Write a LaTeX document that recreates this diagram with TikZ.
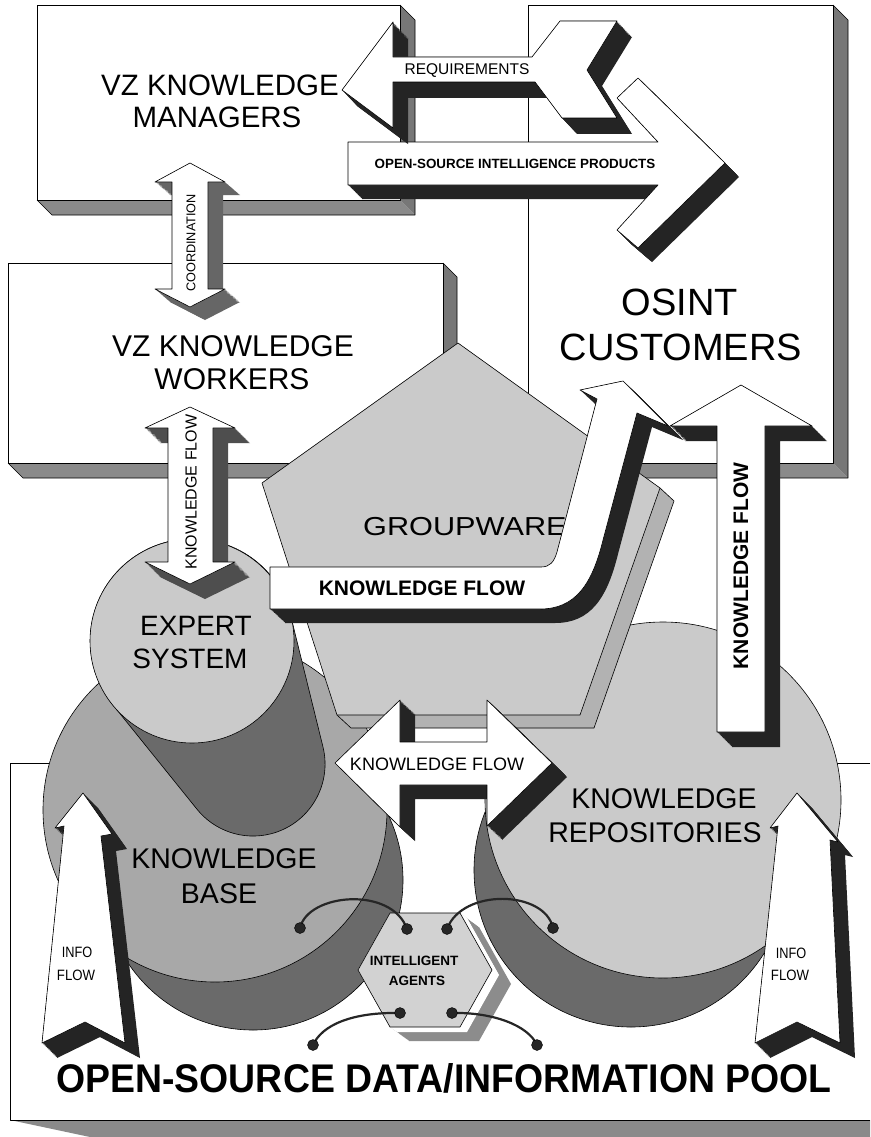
\documentclass[tikz,border=0pt]{standalone}
\usepackage{fontspec}
\setmainfont{Liberation Sans}
\usetikzlibrary{calc}

\definecolor{boxbottom}{HTML}{8A8A8A}
\definecolor{boxright}{HTML}{777777}
\definecolor{shadowdark}{HTML}{242424}
\definecolor{shadowmid}{HTML}{666666}
\definecolor{shadowgrey}{HTML}{4E4E4E}
\definecolor{facelight}{HTML}{CACACA}
\definecolor{facemid}{HTML}{A8A8A8}
\definecolor{cyldark}{HTML}{6A6A6A}
\definecolor{dotband}{HTML}{B2B2B2}
\definecolor{hexside}{HTML}{8C8C8C}
\definecolor{hexface}{HTML}{D2D2D2}

% extrusion of a closed path: copies of it slid along (dx,dy)
\newcommand{\sweep}[4]{%
  \foreach \k in {0,...,18}{%
    \fill[#1, shift={({#2*\k/18},{#3*\k/18})}] #4;}%
}
\newcommand{\fs}[1]{\fontsize{#1}{#1}\selectfont}

% outlines of the block arrows
\def\coordpath{(190,163) -- (225,182) -- (208,182) -- (208,289) -- (225,289) -- (190,307) -- (155,289) -- (172,289) -- (172,182) -- (155,182) -- cycle}
\def\kfleftpath{(190,407) -- (235,428) -- (213,428) -- (213,562) -- (235,562) -- (190,584) -- (145,562) -- (168,562) -- (168,428) -- (145,428) -- cycle}
\def\reqpath{(342,90) -- (393,22) -- (393,57) -- (532,57) -- (560,21) -- (617,21) -- (587,70) -- (617,118) -- (562,118) -- (535,82) -- (393,82) -- (393,128) -- cycle}
\def\prodpath{(348,142) -- (658,142) -- (617,98) -- (638,78) -- (725,163) -- (638,248) -- (617,230) -- (658,185) -- (348,185) -- cycle}
\def\bentpath{(270,567) -- (541,567) .. controls (550,567) and (554,562) .. (557,552) -- (597,399) -- (580,390) -- (623,381) -- (668,426) -- (637,413) -- (603,540) .. controls (592,585) and (575,609) .. (540,609) -- (270,609) -- cycle}
\def\kfrightpath{(741,385) -- (812,426) -- (765,426) -- (765,732) -- (717,732) -- (717,426) -- (670,426) -- cycle}
\def\kfmidpath{(335,763) -- (400,700) -- (400,742) -- (487,742) -- (487,700) -- (552,763) -- (487,826) -- (487,785) -- (400,785) -- (400,827) -- cycle}
\def\infoLpath{(83,793) -- (112,834) -- (101,836) -- (125,1043) -- (85,1022) -- (42,1043) -- (64,826) -- (55,828) -- cycle}
\def\infoRpath{(797,793) -- (838,842) -- (830,840) -- (840,1043) -- (797,1022) -- (755,1043) -- (778,826) -- (770,828) -- cycle}
\def\pentpath{(458,343) -- (660,488) -- (580,715) -- (337,715) -- (262,483) -- cycle}
\def\hexpath{(390,913) -- (460,913) -- (492,970) -- (460,1027) -- (390,1027) -- (358,970) -- cycle}

\begin{document}
\begin{tikzpicture}[x=1pt,y=-1pt,line join=round,
  edge/.style={draw=black,line width=0.6pt},
  whiteface/.style={edge,fill=white},
  lbl/.style={inner sep=0pt,anchor=base},
  vlbl/.style={inner sep=0pt,rotate=90},
  dot/.style={fill=black!85,draw=black,line width=0.4pt},
  link/.style={draw=black!85,line width=2.2pt}]
\useasboundingbox (0,0) rectangle (870,1137);
\fill[white] (0,0) rectangle (870,1137);

% data pool slab
\fill[boxbottom] (10,1120) -- (870,1120) -- (870,1137) -- (90,1137) -- cycle;
\fill[white] (10,763) rectangle (870,1120);
\draw[edge] (870,763) -- (10,763) -- (10,1120) -- (870,1120);

% knowledge managers slab
\fill[boxbottom] (37,200) -- (400,200) -- (415,215) -- (52,215) -- cycle;
\fill[boxright] (400,5) -- (415,20) -- (415,215) -- (400,200) -- cycle;
\draw[edge] (37,200) -- (52,215) -- (415,215) -- (415,20) -- (400,5);
\draw[whiteface] (37,5) rectangle (400,200);
\node[lbl,font=\fs{29.5}] (mgrA) at (220,96) {VZ KNOWLEDGE};
\node[lbl,font=\fs{29.5}] (mgrB) at (217,128) {MANAGERS};

% customers slab
\fill[boxbottom] (528,463) -- (833,463) -- (848,478) -- (543,478) -- cycle;
\fill[boxright] (833,5) -- (848,20) -- (848,478) -- (833,463) -- cycle;
\draw[edge] (528,463) -- (543,478) -- (848,478) -- (848,20) -- (833,5);
\draw[whiteface] (528,5) rectangle (833,463);
\node[lbl,font=\fs{38}] (custA) at (680,315) {OSINT};
\node[lbl,font=\fs{38}] (custB) at (681,360) {CUSTOMERS};

% knowledge workers slab
\fill[boxbottom] (8,463) -- (443,463) -- (457,478) -- (23,478) -- cycle;
\fill[boxright] (443,263) -- (457,277) -- (457,478) -- (443,463) -- cycle;
\draw[edge] (8,463) -- (23,478) -- (457,478) -- (457,277) -- (443,263);
\draw[whiteface] (8,263) rectangle (443,463);
\node[lbl,font=\fs{30}] (wrkA) at (233,356) {VZ KNOWLEDGE};
\node[lbl,font=\fs{30}] (wrkB) at (232,389) {WORKERS};

% knowledge base cylinder
\draw[edge,fill=cyldark] (253,880) circle[radius=150];
\draw[edge,fill=facemid] (215,810) circle[radius=172];
\node[lbl,font=\fs{28.5}] (kbA) at (224,868) {KNOWLEDGE};
\node[lbl,font=\fs{28.5}] (kbB) at (219,903) {BASE};

% knowledge repositories cylinder
\draw[edge,fill=cyldark] (631,870) circle[radius=157];
\draw[edge,fill=facelight] (663,800) circle[radius=178];
\node[lbl,font=\fs{28.5}] (krA) at (664,808) {KNOWLEDGE};
\node[lbl,font=\fs{28.5}] (krB) at (655,842) {REPOSITORIES};

% expert system cylinder
\path[edge,fill=cyldark] (291,617) -- (323,747) arc[start angle=-13.7,end angle=141.2,radius=72]
  -- (113,705) arc[start angle=141,end angle=346.4,radius=102] -- cycle;
\draw[edge,fill=facelight] (192,641) circle[radius=102];
\node[lbl,font=\fs{28}] (expA) at (196,635) {EXPERT};
\node[lbl,font=\fs{28}] (expB) at (190,668) {SYSTEM};

% groupware pentagon
\sweep{dotband}{14}{13}{\pentpath}
\draw[edge] (594,728) -- (351,728) -- (337,715);
\draw[edge] (660,488) -- (674,501) -- (594,728);
\draw[edge,fill=facelight] \pentpath;
\node[lbl,anchor=base west,font=\fs{26}] (grp) at (363,535) {\scalebox{1.18}[1]{GROUPWARE}};

% intelligent agents hexagon
\sweep{hexside}{19}{14}{\hexpath}
\sweep{white}{7}{5}{\hexpath}
\draw[edge,fill=hexface] \hexpath;
\node[lbl,font=\bfseries\fs{13.5}] (agA) at (414,965) {INTELLIGENT};
\node[lbl,font=\bfseries\fs{13.5}] (agB) at (417,985) {AGENTS};

\coordinate (d1) at (300,928);
\coordinate (d2) at (407,929);
\coordinate (d3) at (447,929);
\coordinate (d4) at (553,928);
\coordinate (d5) at (400,1013);
\coordinate (d6) at (313,1045);
\coordinate (d7) at (452,1013);
\coordinate (d8) at (537,1045);
\draw[link] (d1) .. controls (308,893) and (392,886) .. (d2);
\draw[link] (d3) .. controls (462,888) and (545,890) .. (d4);
\draw[link] (d5) .. controls (352,1012) and (322,1025) .. (d6);
\draw[link] (d7) .. controls (492,1012) and (528,1025) .. (d8);
\foreach \d in {d1,d2,d3,d4,d5,d6,d7,d8} \draw[dot] (\d) circle[radius=5.5];

% coordination arrow
\sweep{shadowmid}{15}{13}{\coordpath}
\draw[whiteface] \coordpath;
\node[vlbl,font=\fs{12.7}] (coord) at (191,243) {COORDINATION};

% knowledge flow between workers and expert system
\sweep{shadowgrey}{15}{15}{\kfleftpath}
\draw[whiteface] \kfleftpath;
\node[vlbl,font=\fs{16}] (kfl) at (191,492) {KNOWLEDGE FLOW};

% products and requirements
\sweep{shadowdark}{14}{14}{\prodpath}
\draw[whiteface] \prodpath;
\node[lbl,font=\bfseries\fs{13.4}] (prod) at (515,168) {OPEN-SOURCE INTELLIGENCE PRODUCTS};
\sweep{shadowdark}{15}{16}{\reqpath}
\draw[whiteface] \reqpath;
\node[lbl,font=\fs{15.5}] (req) at (467,75) {REQUIREMENTS};

% bent knowledge flow to customers
\sweep{shadowdark}{15}{14}{\bentpath}
\draw[whiteface] \bentpath;
\node[lbl,font=\bfseries\fs{21}] (kfb) at (422,595) {KNOWLEDGE FLOW};

% knowledge flow from repositories to customers
\sweep{shadowdark}{15}{15}{\kfrightpath}
\draw[whiteface] \kfrightpath;
\node[vlbl,font=\bfseries\fs{21}] (kfr) at (741,566) {KNOWLEDGE FLOW};

% knowledge flow between base and repositories
\sweep{shadowdark}{15}{14}{\kfmidpath}
\draw[whiteface] \kfmidpath;
\node[lbl,font=\fs{18}] (kfm) at (437,770) {KNOWLEDGE FLOW};

% info flows out of the pool
\sweep{shadowdark}{15}{15}{\infoLpath}
\draw[whiteface] \infoLpath;
\node[lbl,font=\fs{15}] (infLa) at (77,957) {\scalebox{0.85}[1]{INFO}};
\node[lbl,font=\fs{15}] (infLb) at (76,980) {\scalebox{0.88}[1]{FLOW}};
\sweep{shadowdark}{15}{15}{\infoRpath}
\draw[whiteface] \infoRpath;
\node[lbl,font=\fs{15}] (infRa) at (791,958) {\scalebox{0.85}[1]{INFO}};
\node[lbl,font=\fs{15}] (infRb) at (790,980) {\scalebox{0.88}[1]{FLOW}};

% pool caption
\node[lbl,font=\bfseries\fs{40}] (pool) at (444,1092) {\scalebox{0.935}[1]{OPEN-SOURCE DATA/INFORMATION POOL}};
\end{tikzpicture}
\end{document}
